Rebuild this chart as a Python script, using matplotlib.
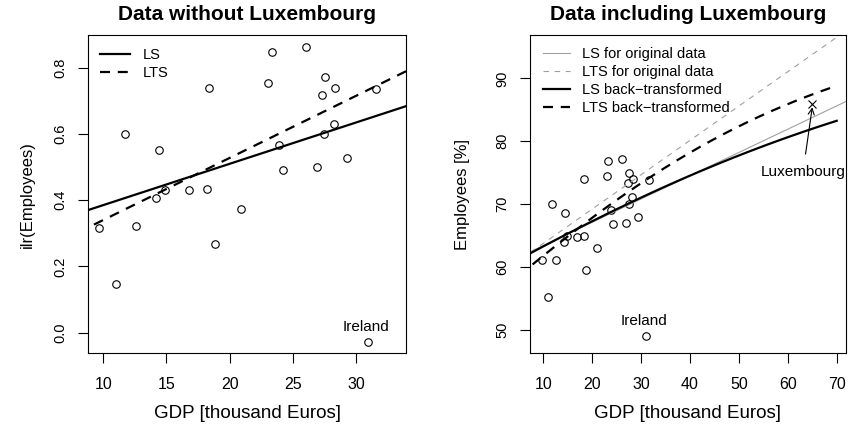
import numpy as np
import matplotlib
matplotlib.use("Agg")
import matplotlib.pyplot as plt

plt.rcParams['font.family'] = ['Liberation Sans', 'DejaVu Sans']

# ---------------- data ----------------
gdp = [9.68, 11.02, 11.72, 12.61, 14.18, 14.43, 14.92, 16.79, 18.23, 18.33,
       18.80, 20.92, 23.0, 23.31, 23.91, 24.2, 26.02, 26.88, 27.29, 27.48,
       27.54, 28.22, 28.34, 29.32, 30.93, 31.57]
ilr_employees = [0.316, 0.147, 0.600, 0.322, 0.407, 0.553, 0.431, 0.431, 0.435, 0.740,
                 0.269, 0.373, 0.755, 0.847, 0.566, 0.491, 0.863, 0.501, 0.718, 0.599,
                 0.773, 0.630, 0.740, 0.527, -0.028, 0.736]
employees_pct = [61.1, 55.3, 70.0, 61.2, 64.0, 68.6, 64.9, 64.8, 64.9, 74.0,
                 59.5, 63.0, 74.5, 76.8, 69.1, 66.8, 77.2, 67.0, 73.4, 70.0,
                 75.0, 71.1, 74.0, 67.9, 49.1, 73.9]
ireland_idx = 24
lux_gdp, lux_emp = 65.0, 86.0

# fitted lines (intercept, slope)
ls_ilr = (0.2603, 0.01248)
lts_ilr = (0.1525, 0.01876)
ls_orig = (59.72, 0.370)
lts_orig = (58.3, 0.546)

left_xticks = [10, 15, 20, 25, 30]
left_yticks = [0.0, 0.2, 0.4, 0.6, 0.8]
right_xticks = [10, 20, 30, 40, 50, 60, 70]
right_yticks = [50, 60, 70, 80, 90]

# ---------------- figure ----------------
W, H = 849, 434
fig = plt.figure(figsize=(W / 100, H / 100), dpi=100)

def px_axes(x0, x1, y0, y1):
    return fig.add_axes([x0 / W, 1 - y1 / H, (x1 - x0) / W, (y1 - y0) / H])

AX_TOP, AX_BOT = 35, 353.3
axL = px_axes(88, 406, AX_TOP, AX_BOT)
axR = px_axes(530, 846, AX_TOP, AX_BOT)
AX_H = AX_BOT - AX_TOP

XTICK_FS = 11.5
YTICK_FS = 10.5
XLAB_FS = 13.5
YLAB_FS = 12
TITLE_FS = 15
LEG_FS = 10.5
ANN_FS = 11

def style(ax):
    for s in ax.spines.values():
        s.set_linewidth(0.8)
        s.set_color('black')
    ax.tick_params(direction='out', length=7, width=0.8, pad=8)
    ax.tick_params(axis='x', labelsize=XTICK_FS, pad=10)
    ax.tick_params(axis='y', labelsize=YTICK_FS)
    for lab in ax.get_yticklabels():
        lab.set_rotation(90)
        lab.set_va('center')

circ = dict(marker='o', mfc='none', mec='black', mew=0.8, ms=5.4, ls='none')
leg_kw = dict(loc='upper left', frameon=False, fontsize=LEG_FS, borderpad=0,
              borderaxespad=0, labelspacing=0.27, handletextpad=0.85)

# ---- left panel ----
axL.plot(gdp, ilr_employees, **circ)
axL.set_xlim(8.79, 33.95)
axL.set_ylim(-0.0626, 0.899)
xx = np.array([8.0, 35.0])
axL.plot(xx, ls_ilr[0] + ls_ilr[1] * xx, color='black', lw=1.6, label='LS')
axL.plot(xx, lts_ilr[0] + lts_ilr[1] * xx, color='black', lw=1.6, dashes=(4.5, 3.5), label='LTS')
axL.set_xticks(left_xticks)
axL.set_yticks(left_yticks)
axL.set_yticklabels([f"{v:.1f}" for v in left_yticks])
style(axL)
axL.text(gdp[ireland_idx] - 0.15, ilr_employees[ireland_idx] + 0.046, 'Ireland',
         ha='center', va='center', fontsize=ANN_FS)
axL.legend(handlelength=2.05, bbox_to_anchor=(12 / 318, 1 - 13 / AX_H), **leg_kw)
axL.set_xlabel('GDP [thousand Euros]', fontsize=XLAB_FS)
axL.xaxis.set_label_coords(0.5, (434 - 413 - (434 - AX_BOT)) / AX_H)
axL.xaxis.label.set_va('center')
axL.set_ylabel('ilr(Employees)', fontsize=YLAB_FS)
axL.yaxis.set_label_coords((27 - 88) / 318, 0.5)
axL.yaxis.label.set_va('center')
fig.text((88 + 406) / 2 / W, 1 - 14 / H, 'Data without Luxembourg', ha='center', va='center',
         fontsize=TITLE_FS, fontweight='bold')

# ---- right panel ----
axR.plot(gdp, employees_pct, **circ)
axR.plot([lux_gdp], [lux_emp], marker='x', color='black', mew=0.8, ms=6, ls='none')
axR.set_xlim(7.28, 71.9)
axR.set_ylim(46.29, 96.89)
xl = np.array([0.0, 80.0])
axR.plot(xl, ls_orig[0] + ls_orig[1] * xl, color='#a0a0a0', lw=0.8, label='LS for original data')
axR.plot(xl, lts_orig[0] + lts_orig[1] * xl, color='#a0a0a0', lw=0.8, dashes=(5, 5),
         label='LTS for original data')
xc = np.linspace(5, 70, 300)
back = lambda z: 100.0 / (1.0 + np.exp(-np.sqrt(2.0) * z))
axR.plot(xc, back(ls_ilr[0] + ls_ilr[1] * xc), color='black', lw=1.6, label='LS back\u2212transformed')
axR.plot(xc, back(lts_ilr[0] + lts_ilr[1] * xc), color='black', lw=1.6, dashes=(4.5, 3.5),
         label='LTS back\u2212transformed')
axR.set_xticks(right_xticks)
axR.set_yticks(right_yticks)
style(axR)
axR.text(gdp[ireland_idx] - 0.3, employees_pct[ireland_idx] + 2.4, 'Ireland',
         ha='center', va='center', fontsize=ANN_FS)
axR.annotate('Luxembourg', xy=(lux_gdp, lux_emp - 0.6), xytext=(63.1, 75.1),
             ha='center', va='center', fontsize=ANN_FS,
             arrowprops=dict(arrowstyle='->', color='black', lw=0.8, shrinkA=6, shrinkB=0))
axR.legend(handlelength=1.85, bbox_to_anchor=(13 / 316, 1 - 12 / AX_H), **leg_kw)
axR.set_xlabel('GDP [thousand Euros]', fontsize=XLAB_FS)
axR.xaxis.set_label_coords(0.5, (434 - 413 - (434 - AX_BOT)) / AX_H)
axR.xaxis.label.set_va('center')
axR.set_ylabel('Employees [%]', fontsize=YLAB_FS)
axR.yaxis.set_label_coords((462 - 530) / 316, 0.5)
axR.yaxis.label.set_va('center')
fig.text((530 + 846) / 2 / W, 1 - 14 / H, 'Data including Luxembourg', ha='center', va='center',
         fontsize=TITLE_FS, fontweight='bold')

fig.savefig('out.png', dpi=100)
